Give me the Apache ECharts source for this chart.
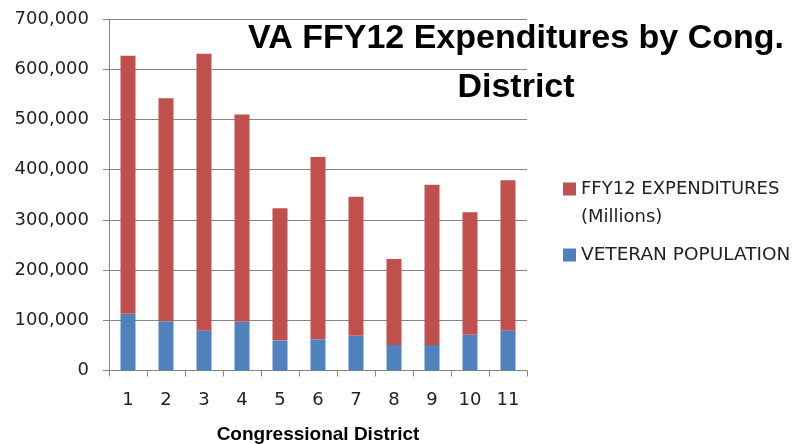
<!DOCTYPE html>
<html>
<head>
<meta charset="utf-8">
<script src="https://cdn.jsdelivr.net/npm/echarts@6/dist/echarts.min.js"></script>
<style>html,body{margin:0;padding:0;background:#fff}#c{width:810px;height:444px}</style>
</head>
<body>
<div id="c"></div>
<script>
var districts = ['1','2','3','4','5','6','7','8','9','10','11'];
var veteranPopulation = [113000, 98000, 79000, 97000, 60000, 62000, 69000, 51000, 51000, 71000, 79000];
var expenditures = [514000, 444000, 552000, 413000, 263000, 363000, 277000, 171000, 319000, 244000, 300000];
var yTicks = [0, 100000, 200000, 300000, 400000, 500000, 600000, 700000];

var chart = echarts.init(document.getElementById('c'), null, {renderer: 'canvas'});
var gray = '#868686';
var lab = 'DejaVu Sans';
chart.setOption({
  animation: false,
  backgroundColor: '#fff',
  title: {
    text: 'VA FFY12 Expenditures by Cong.\nDistrict',
    left: 511, top: 9, textAlign: 'center',
    textStyle: {fontFamily: 'Liberation Sans', fontWeight: 'bold', fontSize: 34, color: '#000', lineHeight: 49}
  },
  legend: [
    {
      data: ['FFY12 EXPENDITURES (Millions)'],
      left: 563, top: 147, padding: 0, itemWidth: 13, itemHeight: 13, icon: 'rect',
      formatter: function (n) { return '\n' + n.replace(' (', '\n('); },
      textStyle: {fontFamily: lab, fontSize: 18, color: '#222', lineHeight: 28}
    },
    {
      data: ['VETERAN POPULATION'],
      left: 563, top: 241, padding: 0, itemWidth: 13, itemHeight: 13, icon: 'rect',
      textStyle: {fontFamily: lab, fontSize: 18.5, color: '#222', lineHeight: 28}
    }
  ],
  grid: {left: 109, right: 283, top: 19, bottom: 73.5, containLabel: false, outerBoundsMode: 'none'},
  xAxis: {
    type: 'category', data: districts,
    name: 'Congressional District', nameLocation: 'middle', nameGap: 55,
    nameTextStyle: {fontFamily: 'Liberation Sans', fontWeight: 'bold', fontSize: 19, color: '#000'},
    axisLine: {lineStyle: {color: gray, width: 1}},
    axisTick: {show: true, length: 6, inside: false, lineStyle: {color: gray}},
    axisLabel: {fontFamily: lab, fontSize: 18, color: '#222', margin: 21}
  },
  yAxis: {
    type: 'value', min: 0, max: 700000, interval: 100000,
    axisLine: {show: true, lineStyle: {color: gray, width: 1}},
    axisTick: {show: true, length: 6, inside: false, lineStyle: {color: gray}},
    axisLabel: {fontFamily: lab, fontSize: 18, color: '#222', margin: 20,
      formatter: function (v) { return yTicks.indexOf(v) >= 0 ? v.toLocaleString('en-US') : ''; }},
    splitLine: {show: true, lineStyle: {color: gray, width: 1}}
  },
  series: [
    {name: 'VETERAN POPULATION', type: 'bar', stack: 's', data: veteranPopulation, barWidth: 15,
      itemStyle: {color: '#4F81BD'}},
    {name: 'FFY12 EXPENDITURES (Millions)', type: 'bar', stack: 's', data: expenditures, barWidth: 15,
      itemStyle: {color: '#C0504D'}}
  ]
});
</script>
</body>
</html>
